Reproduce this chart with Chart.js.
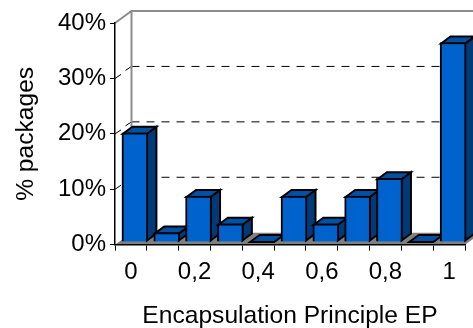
<!DOCTYPE html>
<html>
<head>
<meta charset="utf-8">
<style>
  html, body { margin: 0; padding: 0; background: #fff; }
  #wrap { width: 473px; height: 328px; }
</style>
<script src="https://cdn.jsdelivr.net/npm/chart.js@4/dist/chart.umd.min.js"></script>
</head>
<body>
<div id="wrap"><canvas id="epChart"></canvas></div>
<script>
const categories = ['0', '0,1', '0,2', '0,3', '0,4', '0,5', '0,6', '0,7', '0,8', '0,9', '1'];
const packages = [19.7, 1.7, 8.3, 3.3, 0, 8.3, 3.3, 8.3, 11.5, 0, 36];
const yTicks = [0, 10, 20, 30, 40];

// depth of the box and of the bars, in pixels
const WALL_DX = 16.5, WALL_DY = 12;
const BAR_DX = 9.5, BAR_DY = 7;
const BAR_SHIFT_X = 4, BAR_SHIFT_Y = -2.7;

const FONT = 'Liberation Sans, Arial, sans-serif';

function face(ctx, pts, fill) {
    ctx.beginPath();
    pts.forEach((p, i) => i ? ctx.lineTo(p[0], p[1]) : ctx.moveTo(p[0], p[1]));
    ctx.closePath();
    ctx.fillStyle = fill;
    ctx.fill();
    ctx.stroke();
}

const box3d = {
    id: 'box3d',
    // floor, back wall and dashed gridlines
    beforeDraw(chart) {
        const ctx = chart.ctx, a = chart.chartArea, y = chart.scales.y;
        const backL = a.left + WALL_DX;
        ctx.save();
        ctx.fillStyle = '#808080';
        ctx.beginPath();
        ctx.moveTo(a.left, a.bottom);
        ctx.lineTo(backL, a.bottom - WALL_DY);
        ctx.lineTo(a.right + WALL_DX, a.bottom - WALL_DY);
        ctx.lineTo(a.right, a.bottom);
        ctx.closePath();
        ctx.fill();

        yTicks.slice(1, -1).forEach(v => {
            const py = y.getPixelForValue(v);
            ctx.strokeStyle = '#000';
            ctx.lineWidth = 1;
            ctx.setLineDash([]);
            ctx.beginPath();
            ctx.moveTo(a.left, py);
            ctx.lineTo(a.left + 6, py - 4);
            ctx.moveTo(backL - 6, py - WALL_DY + 4);
            ctx.lineTo(backL, py - WALL_DY);
            ctx.stroke();
            ctx.setLineDash([8, 7]);
            ctx.beginPath();
            ctx.moveTo(backL, py - WALL_DY);
            ctx.lineTo(chart.width, py - WALL_DY);
            ctx.stroke();
        });

        ctx.setLineDash([]);
        ctx.strokeStyle = '#8c8c8c';
        ctx.lineWidth = 2;
        ctx.beginPath();
        ctx.moveTo(a.left, a.top);
        ctx.lineTo(backL, a.top - WALL_DY);
        ctx.lineTo(chart.width, a.top - WALL_DY);
        ctx.moveTo(backL, a.top - WALL_DY);
        ctx.lineTo(backL, a.bottom - WALL_DY);
        ctx.stroke();
        ctx.restore();
    },
    // top and side faces go under the fronts, which the bar elements draw
    beforeDatasetsDraw(chart) {
        const ctx = chart.ctx;
        ctx.save();
        ctx.translate(BAR_SHIFT_X, BAR_SHIFT_Y);
        ctx.save();
        ctx.strokeStyle = '#000';
        ctx.lineWidth = 2;
        ctx.lineJoin = 'miter';
        chart.getDatasetMeta(0).data.forEach(bar => {
            const l = bar.x - bar.width / 2 + 1, r = bar.x + bar.width / 2 - 1;
            const top = bar.y + (bar.base > bar.y ? 1 : 0), base = bar.base - 1;
            if (base > top) {
                face(ctx, [[r, top], [r + BAR_DX, top - BAR_DY], [r + BAR_DX, base - BAR_DY], [r, base]], '#003a78');
            }
            face(ctx, [[l, top], [l + BAR_DX, top - BAR_DY], [r + BAR_DX, top - BAR_DY], [r, top]], '#0050a4');
        });
        ctx.restore();
    },
    afterDatasetsDraw(chart) {
        chart.ctx.restore();
    }
};

new Chart(document.getElementById('epChart'), {
    type: 'bar',
    data: {
        labels: categories,
        datasets: [{
            data: packages,
            backgroundColor: '#0062cc',
            borderColor: '#000',
            borderWidth: 2,
            barThickness: 26,
            clip: false
        }]
    },
    plugins: [box3d],
    options: {
        responsive: true,
        maintainAspectRatio: false,
        animation: false,
        layout: { padding: { top: 23, right: 8, left: 0, bottom: 0 } },
        plugins: { legend: { display: false }, tooltip: { enabled: false } },
        scales: {
            x: {
                afterFit(scale) { scale.height = 83.3; },
                grid: { offset: true, drawOnChartArea: false, color: '#000', tickLength: 6 },
                border: { color: '#000', width: 1.5 },
                ticks: {
                    autoSkip: false,
                    maxRotation: 0,
                    color: '#000',
                    padding: 7,
                    font: { family: FONT, size: 24 },
                    callback(v, i) { return i % 2 === 0 ? categories[i] : ''; }
                },
                title: {
                    display: true,
                    text: 'Encapsulation Principle EP',
                    color: '#000',
                    font: { family: FONT, size: 24.6 },
                    padding: { top: 10, bottom: -3 }
                }
            },
            y: {
                min: 0,
                max: 40,
                afterFit(scale) { scale.width = 115; },
                afterBuildTicks(scale) { scale.ticks = yTicks.map(v => ({ value: v })); },
                grid: { drawOnChartArea: false, color: '#000', tickLength: 5 },
                border: { color: '#000', width: 1.5 },
                ticks: {
                    color: '#000',
                    padding: 4,
                    font: { family: FONT, size: 24 },
                    callback: v => v + '%'
                },
                title: {
                    display: true,
                    text: '% packages',
                    color: '#000',
                    font: { family: FONT, size: 24.6 },
                    padding: { top: 11, bottom: 0 }
                }
            }
        }
    }
});
</script>
</body>
</html>
